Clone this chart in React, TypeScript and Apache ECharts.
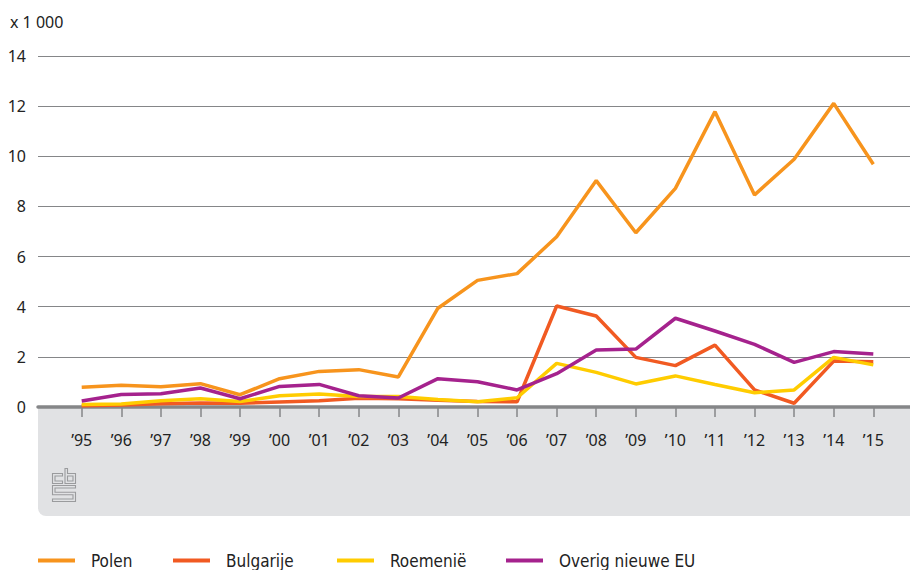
import React, { useEffect, useRef } from "react";
import * as echarts from "echarts";

const years = ["’95","’96","’97","’98","’99","’00","’01","’02","’03","’04","’05","’06","’07","’08","’09","’10","’11","’12","’13","’14","’15"];
const polen = [0.79,0.87,0.81,0.93,0.49,1.13,1.42,1.49,1.2,3.94,5.05,5.32,6.79,9.03,6.95,8.72,11.78,8.46,9.88,12.11,9.68];
const bulgarije = [0.05,0.08,0.13,0.16,0.15,0.2,0.25,0.35,0.33,0.27,0.22,0.21,4.03,3.63,1.98,1.65,2.47,0.68,0.15,1.83,1.8];
const roemenie = [0.1,0.12,0.25,0.33,0.22,0.45,0.52,0.42,0.42,0.3,0.21,0.37,1.74,1.38,0.92,1.24,0.9,0.57,0.68,1.98,1.68];
const overig = [0.24,0.5,0.53,0.76,0.33,0.82,0.9,0.45,0.36,1.13,1.01,0.68,1.33,2.27,2.31,3.54,3.03,2.5,1.78,2.21,2.11];
const yTicks = { min: 0, max: 14, interval: 2 };

const names = ["Polen", "Bulgarije", "Roemenië", "Overig nieuwe EU"];
const colors = ["#f7941d", "#f15a22", "#ffcc00", "#a5228d"];
const legendLeft = [38, 173, 337, 506];

const logoPath =
  "M0 5 H10 V7.5 H2.5 V12.5 H10 V15 H0 Z " +
  "M12.5 0 H15 V5 H23 V15 H12.5 Z M15 7.5 H20.5 V12.5 H15 Z " +
  "M0 17 H23 V19.5 H2.5 V23.8 H23 V33 H0 V30.5 H20.5 V26.3 H0 Z";

let registered = false;

export default function App() {
  const ref = useRef<HTMLDivElement>(null);
  useEffect(() => {
    if (!ref.current) return;
    if (!registered) {
      echarts.graphic.registerShape("logo", echarts.graphic.extendPath(logoPath, {}) as any);
      registered = true;
    }
    const chart = echarts.init(ref.current, undefined, { renderer: "svg" });
    const font = "'Noto Sans', sans-serif";
    const data = [polen, bulgarije, roemenie, overig];
    chart.setOption({
      animation: false,
      textStyle: { fontFamily: font },
      grid: [
        { left: 38, right: 0, top: 56, bottom: 163 },
        { left: 81.7, right: 36.7, top: 56, bottom: 163 },
      ],
      xAxis: [
        {
          gridIndex: 0, type: "value", min: 0, max: 1,
          axisLine: { show: true, onZero: false, lineStyle: { color: "#858688", width: 3.5 } },
          axisTick: { show: false }, axisLabel: { show: false }, splitLine: { show: false },
        },
        {
          gridIndex: 1, type: "category", boundaryGap: false, data: years,
          axisLine: { show: false },
          axisTick: { show: true, length: 10, lineStyle: { color: "#858688", width: 1.5 } },
          axisLabel: { color: "#222", fontSize: 16, margin: 25, fontFamily: font },
        },
      ],
      yAxis: [
        {
          gridIndex: 0, type: "value", ...yTicks,
          axisLine: { show: false }, axisTick: { show: false },
          axisLabel: { color: "#222", fontSize: 16, margin: 12, fontFamily: font },
          splitLine: { lineStyle: { color: "#858688", width: 1 } },
        },
        {
          gridIndex: 1, type: "value", ...yTicks, show: false,
          splitLine: { show: false },
        },
      ],
      legend: names.map((n, i) => ({
        data: [n], left: legendLeft[i], top: 552, padding: 0, icon: "rect", itemWidth: 37, itemHeight: 4,
        itemStyle: { color: colors[i] },
        textStyle: { fontSize: 17, lineHeight: 17, color: "#222", fontFamily: "'DejaVu Sans Condensed', 'Liberation Sans Narrow', sans-serif", padding: [0, 0, 0, 11] },
        selectedMode: false,
      })),
      graphic: [
        {
          type: "rect", z: -1, shape: { x: 38, y: 408, width: 872, height: 108, r: [0, 0, 0, 8] },
          style: { fill: "#e1e2e4" }, silent: true,
        },
        {
          type: "text", left: 10, top: 14,
          style: { text: "x 1 000", fontSize: 16, fill: "#222", fontFamily: font },
        },
        {
          type: "logo", x: 52.5, y: 468.5, scaleX: 1, scaleY: 1,
          style: { fill: "none", stroke: "#9a9b9d", lineWidth: 1.1 },
        },
      ],
      series: data.map((d, i) => ({
        name: names[i], type: "line", data: d, xAxisIndex: 1, yAxisIndex: 1,
        showSymbol: false, symbol: "none",
        lineStyle: { color: colors[i], width: 3.5 }, itemStyle: { color: colors[i] },
        z: 3 + i,
      })),
    });
    return () => chart.dispose();
  }, []);
  return <div ref={ref} style={{ width: 910, height: 570, position: "absolute", left: 0, top: 0 }} />;
}
